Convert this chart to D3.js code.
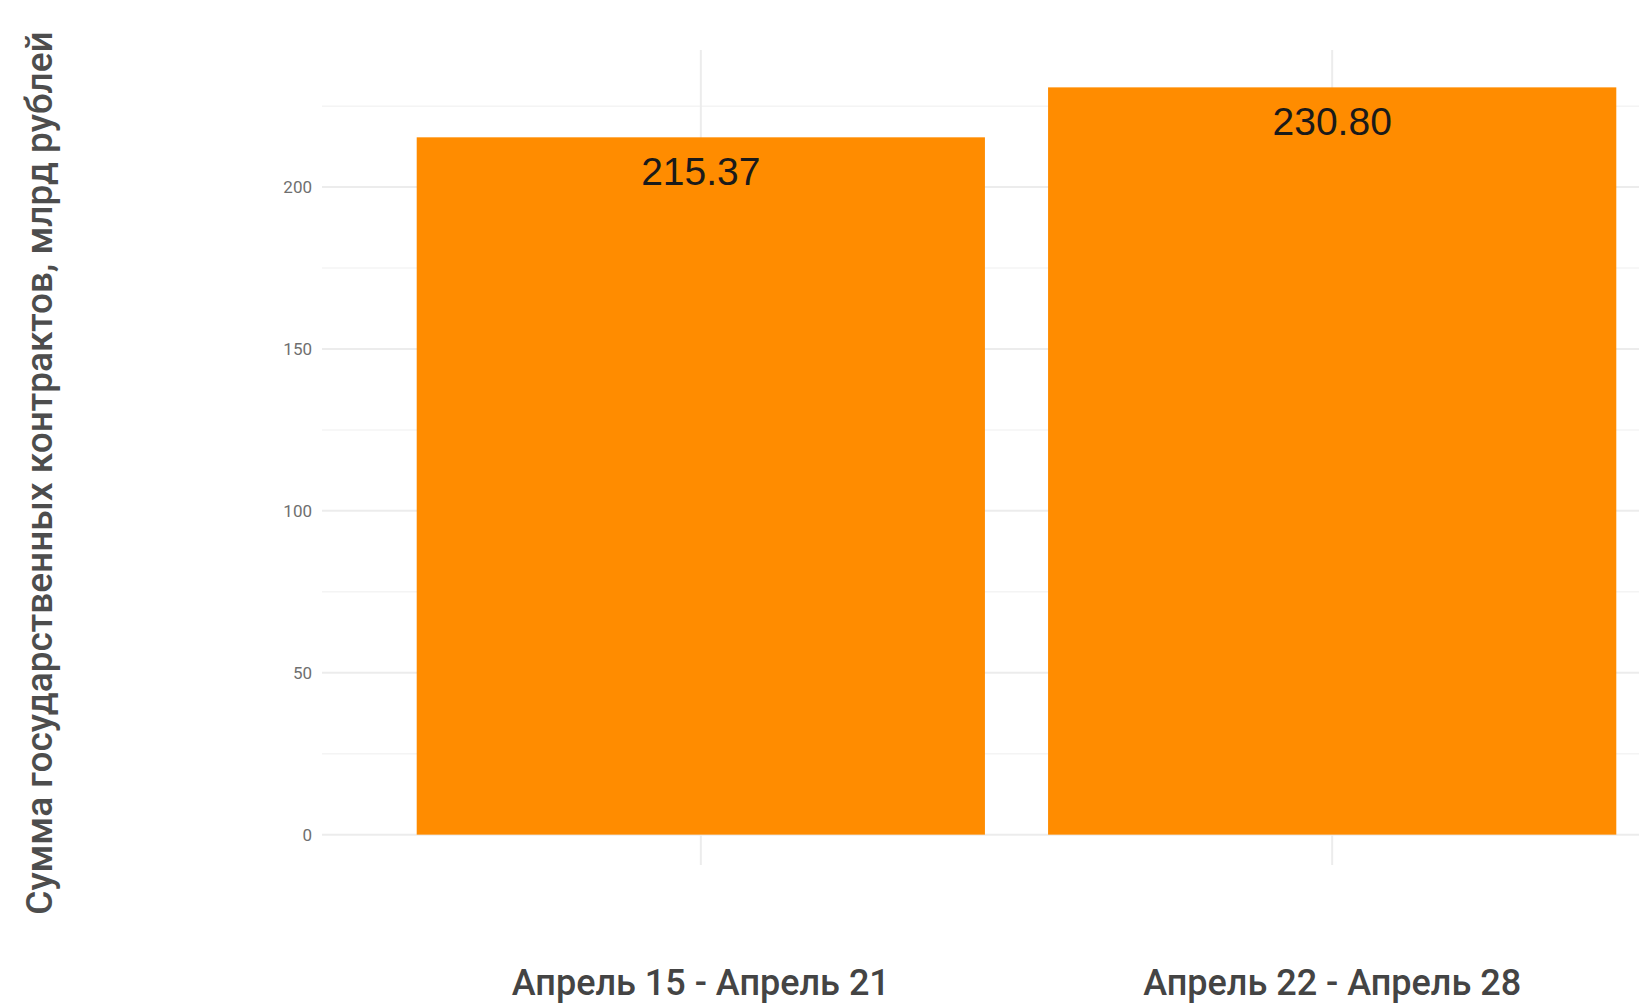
<!DOCTYPE html>
<html>
<head>
<meta charset="utf-8">
<script src="https://cdn.jsdelivr.net/npm/d3@7"></script>
<style>
  body { margin: 0; background: white; }
  svg { display: block; }
</style>
</head>
<body>
<svg class="canvas"></svg>
<script>
// data
let categories = ["Апрель 15 - Апрель 21", "Апрель 22 - Апрель 28"];
let values = [215.37, 230.80];
let yTicks = [0, 50, 100, 150, 200];
let yMinor = [25, 75, 125, 175, 225];
let yTitle = "Сумма государственных контрактов, млрд рублей";

// layout
let width = 1639;
let height = 1003;
let panelLeft = 322, panelRight = 1711; // panel runs past the right edge
let panelTop = 50, panelBottom = 872;

let svg = d3.select(".canvas")
    .attr("width", width)
    .attr("height", height);

let maxV = d3.max(values);
let y = d3.scaleLinear()
    .domain([-maxV * 0.05, maxV * 1.05])
    .range([panelBottom, panelTop]);

// discrete scale with ggplot-ish 0.6 expansion
let x = d3.scaleBand()
    .domain(categories)
    .range([panelLeft, panelRight])
    .paddingOuter(0.6 - 0.5)
    .paddingInner(0);
let step = x.step();
let cx = d => x(d) + step / 2;
let barW = step * 0.9;

// grid
svg.append("g").selectAll("line.minor")
    .data(yMinor).enter().append("line")
    .attr("x1", panelLeft).attr("x2", panelRight)
    .attr("y1", d => y(d)).attr("y2", d => y(d))
    .attr("stroke", "#f4f4f4").attr("stroke-width", 1.5);

svg.append("g").selectAll("line.major")
    .data(yTicks).enter().append("line")
    .attr("x1", panelLeft).attr("x2", panelRight)
    .attr("y1", d => y(d)).attr("y2", d => y(d))
    .attr("stroke", "#ececec").attr("stroke-width", 2);

svg.append("g").selectAll("line.vert")
    .data(categories).enter().append("line")
    .attr("x1", d => cx(d)).attr("x2", d => cx(d))
    .attr("y1", panelTop).attr("y2", panelBottom - 7)
    .attr("stroke", "#ececec").attr("stroke-width", 2);

// bars
svg.append("g").selectAll("rect")
    .data(values).enter().append("rect")
    .attr("x", (d, i) => cx(categories[i]) - barW / 2)
    .attr("width", barW)
    .attr("y", d => y(d))
    .attr("height", d => y(0) - y(d))
    .attr("fill", "#ff8c00");

// value labels
svg.append("g").selectAll("text")
    .data(values).enter().append("text")
    .attr("x", (d, i) => cx(categories[i]))
    .attr("y", d => y(d) + 48)
    .attr("text-anchor", "middle")
    .attr("font-family", "Liberation Sans, Arial, sans-serif")
    .attr("font-size", 39)
    .attr("fill", "#1a1a1a")
    .text(d => d.toFixed(2));

// y tick labels
svg.append("g").selectAll("text")
    .data(yTicks).enter().append("text")
    .attr("x", 312)
    .attr("y", d => y(d))
    .attr("dy", "0.35em")
    .attr("text-anchor", "end")
    .attr("font-family", "Roboto, sans-serif")
    .attr("font-size", 17)
    .attr("fill", "#6f6f6f")
    .text(d => d);

// x tick labels
svg.append("g").selectAll("text")
    .data(categories).enter().append("text")
    .attr("x", d => cx(d))
    .attr("y", 995)
    .attr("text-anchor", "middle")
    .attr("font-family", "Roboto, sans-serif")
    .attr("font-weight", 500)
    .attr("font-size", 36)
    .attr("fill", "#444")
    .text(d => d);

// y title
svg.append("text")
    .attr("transform", "translate(52," + ((panelTop + panelBottom) / 2 + 12) + ") rotate(-90)")
    .attr("text-anchor", "middle")
    .attr("font-family", "Roboto, sans-serif")
    .attr("font-weight", 500)
    .attr("font-size", 37)
    .attr("fill", "#4d4d4d")
    .text(yTitle);
</script>
</body>
</html>
